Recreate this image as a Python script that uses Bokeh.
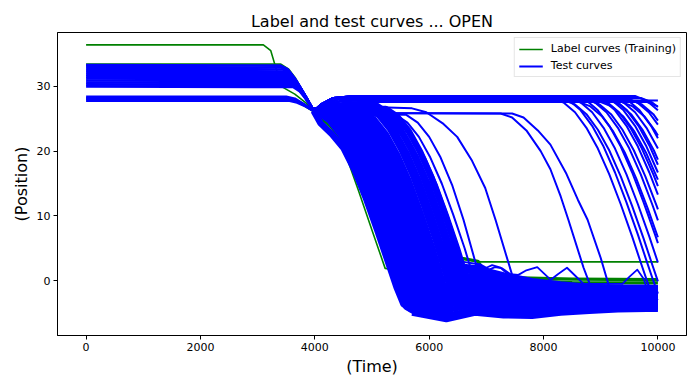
from bokeh.plotting import figure
from bokeh.models import Range1d, FixedTicker, Legend, LegendItem
from bokeh.embed import file_html
from bokeh.resources import INLINE

title_text = "Label and test curves ... OPEN"
x_label = "(Time)"
y_label = "(Position)"
x_ticks = [0, 2000, 4000, 6000, 8000, 10000]
y_ticks = [0, 10, 20, 30]
legend_labels = ["Label curves (Training)", "Test curves"]

# ---- Label curves (Training), green ----
green_t = [
    [0, 3100, 3230, 3330, 3450, 3650, 3850, 3980, 4100, 4300, 4500, 4760, 5000, 5230, 5300, 5400, 5600, 6000, 6300, 6600, 6900, 10000],
]
green_y = [
    [36.4, 36.4, 35.5, 32.5, 29.8, 28.8, 27.4, 26.2, 24.0, 22.4, 20.5, 14.0, 7.8, 1.9, 1.8, 2.8, 3.4, 3.5, 3.6, 3.3, 2.9, 2.9],
]
green_low_t = [
    [0, 3400, 3530, 3650, 3800, 3980, 4300, 4600, 4900, 5200, 5500, 5650, 5800, 6000, 6300, 6600, 6850, 7000, 7300, 7600, 8500, 10000],
    [0, 3520, 3670, 3820, 3980, 4400, 4800, 5200, 5600, 5800, 6100, 6500, 7000, 7600, 8500, 10000],
]
green_low_y = [
    [33.3, 33.3, 32.6, 31.2, 28.9, 26.2, 23.6, 20.0, 14.0, 7.0, 0.5, -2.5, -2.0, 0.5, 3.2, 3.4, 3.0, 1.0, 0.5, 0.45, 0.25, 0.15],
    [28.1, 28.1, 27.8, 27.1, 26.2, 24.5, 19.5, 10.5, 0.5, -2.0, -1.0, 1.5, 1.2, 0.0, -0.3, -0.35],
]

# ---- Test curves, blue: starting levels until the pinch ----
start_t = [
    [0, 3400, 3530, 3650, 3800, 3980],
    [0, 3420, 3560, 3680, 3820, 3980],
    [0, 3440, 3580, 3700, 3830, 3980],
    [0, 3460, 3600, 3720, 3840, 3980],
    [0, 3480, 3620, 3740, 3850, 3980],
    [0, 3500, 3640, 3750, 3860, 3980],
    [0, 3520, 3660, 3760, 3870, 3980],
    [0, 3540, 3670, 3770, 3880, 3980],
    [0, 3560, 3680, 3780, 3890, 3980],
    [0, 3580, 3700, 3800, 3900, 3980],
    [0, 3600, 3720, 3820, 3910, 3980],
    [0, 3620, 3740, 3840, 3920, 3980],
    [0, 3500, 3650, 3800, 3980],
    [0, 3520, 3670, 3820, 3980],
    [0, 3540, 3690, 3840, 3980],
]
start_y = [
    [33.3, 33.2, 32.6, 31.2, 28.9, 26.2],
    [33.0, 32.9, 32.2, 30.8, 28.7, 26.2],
    [32.7, 32.6, 31.9, 30.5, 28.6, 26.2],
    [32.4, 32.3, 31.6, 30.2, 28.4, 26.2],
    [32.1, 32.0, 31.3, 29.9, 28.3, 26.2],
    [31.8, 31.7, 31.0, 29.7, 28.1, 26.2],
    [31.5, 31.4, 30.7, 29.5, 28.0, 26.2],
    [31.2, 31.1, 30.4, 29.3, 27.8, 26.2],
    [30.9, 30.8, 30.1, 29.0, 27.6, 26.2],
    [30.6, 30.5, 29.8, 28.7, 27.4, 26.2],
    [30.3, 30.2, 29.5, 28.4, 27.2, 26.2],
    [30.0, 29.9, 29.2, 28.1, 27.0, 26.2],
    [28.4, 28.4, 28.1, 27.3, 26.2],
    [28.1, 28.1, 27.8, 27.1, 26.2],
    [27.8, 27.8, 27.5, 26.9, 26.2],
]

# ---- Test curves on the upper plateau, late drops ----
plateau_t = [
    [3980, 4150, 4400, 4750, 8150, 8350, 8550, 8750, 8950, 9150, 9350, 9550, 9700, 9800, 9900, 10000],
    [3980, 4120, 4320, 4700, 8250, 8450, 8650, 8850, 9050, 9250, 9450, 9650, 9800, 9900, 10000],
    [3980, 4180, 4450, 4800, 8350, 8550, 8750, 8950, 9150, 9350, 9550, 9750, 9900, 10000],
    [3980, 4150, 4400, 4750, 8450, 8650, 8850, 9050, 9250, 9450, 9650, 9850, 10000],
    [3980, 4120, 4320, 4700, 8550, 8750, 8950, 9150, 9350, 9550, 9750, 9950, 10000],
    [3980, 4200, 4500, 4850, 8620, 8820, 9020, 9220, 9420, 9620, 9820, 10000],
    [3980, 4150, 4400, 4750, 8700, 8900, 9100, 9300, 9500, 9700, 9900, 10000],
    [3980, 4180, 4450, 4800, 8780, 8980, 9180, 9380, 9580, 9780, 9980, 10000],
    [3980, 4120, 4320, 4700, 8850, 9050, 9250, 9450, 9650, 9850, 10000],
    [3980, 4150, 4400, 4750, 8920, 9120, 9320, 9520, 9720, 9920, 10000],
    [3980, 4200, 4500, 4850, 8990, 9190, 9390, 9590, 9790, 9990, 10000],
    [3980, 4120, 4320, 4700, 9000, 9200, 9400, 9600, 9800, 10000],
    [3980, 4120, 4320, 4700, 9060, 9260, 9460, 9660, 9860, 10000],
    [3980, 4180, 4450, 4800, 9130, 9330, 9530, 9730, 9930, 10000],
    [3980, 4150, 4400, 4750, 9200, 9400, 9600, 9800, 10000],
    [3980, 4120, 4320, 4700, 9280, 9480, 9680, 9880, 10000],
    [3980, 4200, 4500, 4850, 9360, 9560, 9760, 9960, 10000],
    [3980, 4150, 4400, 4750, 9440, 9640, 9840, 10000],
    [3980, 4180, 4450, 4800, 9520, 9720, 9920, 10000],
    [3980, 4120, 4320, 4700, 9600, 9800, 10000],
    [3980, 4150, 4400, 4750, 9700, 9900, 10000],
    [3980, 4200, 4500, 4850, 9800, 10000],
    [3980, 4180, 4450, 4800, 10000],
]
plateau_y = [
    [26.2, 27.2, 28.0, 28.2, 28.2, 27.5, 26.0, 23.6, 20.4, 16.4, 11.8, 6.8, 2.8, 0.2, -2.3, -3.0],
    [26.2, 27.3, 28.2, 28.5, 28.5, 27.8, 26.3, 23.9, 20.7, 16.7, 12.1, 7.1, 3.1, 0.5, -2.0],
    [26.2, 27.1, 27.7, 27.9, 27.9, 27.2, 25.7, 23.3, 20.1, 16.1, 11.5, 6.5, 2.5, -0.1],
    [26.2, 27.2, 28.0, 28.2, 28.2, 27.5, 26.0, 23.6, 20.4, 16.4, 11.8, 6.8, 2.8],
    [26.2, 27.3, 28.2, 28.5, 28.5, 27.8, 26.3, 23.9, 20.7, 16.7, 12.1, 7.1, 5.8],
    [26.2, 26.9, 27.4, 27.6, 27.6, 26.9, 25.4, 23.0, 19.8, 15.8, 11.2, 6.7],
    [26.2, 27.2, 28.0, 28.2, 28.2, 27.5, 26.0, 23.6, 20.4, 16.4, 11.8, 9.3],
    [26.2, 27.1, 27.7, 27.9, 27.9, 27.2, 25.7, 23.3, 20.1, 16.1, 11.5, 11.0],
    [26.2, 27.3, 28.2, 28.5, 28.5, 27.8, 26.3, 23.9, 20.7, 16.7, 13.3],
    [26.2, 27.2, 28.0, 28.2, 28.2, 27.5, 26.0, 23.6, 20.4, 16.4, 14.6],
    [26.2, 26.9, 27.4, 27.6, 27.6, 26.9, 25.4, 23.0, 19.8, 15.8, 15.6],
    [26.2, 27.3, 28.2, 28.5, 28.5, 27.8, 26.3, 23.9, 20.7, 16.7],
    [26.2, 27.3, 28.2, 28.5, 28.5, 27.8, 26.3, 23.9, 20.7, 17.9],
    [26.2, 27.1, 27.7, 27.9, 27.9, 27.2, 25.7, 23.3, 20.1, 18.7],
    [26.2, 27.2, 28.0, 28.2, 28.2, 27.5, 26.0, 23.6, 20.4],
    [26.2, 27.3, 28.2, 28.5, 28.5, 27.8, 26.3, 23.9, 22.0],
    [26.2, 26.9, 27.4, 27.6, 27.6, 26.9, 25.4, 23.0, 22.4],
    [26.2, 27.2, 28.0, 28.2, 28.2, 27.5, 26.0, 24.1],
    [26.2, 27.1, 27.7, 27.9, 27.9, 27.2, 25.7, 24.7],
    [26.2, 27.3, 28.2, 28.5, 28.5, 27.8, 26.3],
    [26.2, 27.2, 28.0, 28.2, 28.2, 27.5, 26.8],
    [26.2, 26.9, 27.4, 27.6, 27.6, 26.9],
    [26.2, 27.1, 27.7, 27.9, 27.8],
]

# ---- Test curves, main early-drop bundle ----
bundle_t = [
    [3980, 4100, 4300, 4500, 4700, 4900, 5100, 5300, 5430, 5550, 5700],
    [3980, 4050, 4250, 4450, 4650, 4850, 5050, 5250, 5400, 5500, 5600, 5750],
    [3980, 4120, 4320, 4520, 4720, 4920, 5120, 5320, 5470, 5570, 5670, 5800],
    [3980, 4200, 4400, 4600, 4800, 5000, 5200, 5400, 5550, 5650, 5750, 5900],
    [3980, 4280, 4480, 4680, 4880, 5080, 5280, 5480, 5630, 5730, 5830, 5950],
    [3980, 4360, 4560, 4760, 4960, 5160, 5360, 5560, 5710, 5810, 5910, 6050],
    [3980, 4440, 4640, 4840, 5040, 5240, 5440, 5640, 5790, 5890, 5990, 6100],
    [3980, 4520, 4720, 4920, 5120, 5320, 5520, 5720, 5870, 5970, 6070, 6200],
    [3980, 4600, 4800, 5000, 5200, 5400, 5600, 5800, 5950, 6050, 6150, 6280],
    [3980, 4680, 4880, 5080, 5280, 5480, 5680, 5880, 6030, 6130, 6230, 6350],
    [3980, 4300, 4760, 4960, 5160, 5360, 5560, 5760, 5960, 6110, 6210, 6310, 6400],
    [3980, 4840, 5040, 5240, 5440, 5640, 5840, 6040, 6190, 6290, 6390],
    [3980, 4350, 4920, 5120, 5320, 5520, 5720, 5920, 6120, 6270, 6370, 6470],
    [3980, 5000, 5200, 5400, 5600, 5800, 6000, 6200, 6350, 6450, 6550],
    [3980, 4400, 5080, 5280, 5480, 5680, 5880, 6080, 6280, 6430, 6530],
    [3980, 5160, 5360, 5560, 5760, 5960, 6160, 6360, 6510, 6610],
    [3980, 4400, 5240, 5440, 5640, 5840, 6040, 6240, 6440, 6590, 6690],
]
bundle_y = [
    [26.2, 24.3, 22.6, 20.5, 17.0, 12.6, 7.6, 2.4, -1.0, -3.6, -4.5],
    [26.2, 26.0, 24.8, 22.6, 19.4, 15.4, 10.6, 5.4, 1.0, -2.0, -4.0, -4.8],
    [26.2, 26.1, 24.9, 22.7, 19.5, 15.5, 10.7, 5.5, 1.1, -1.9, -3.9, -5.0],
    [26.2, 26.0, 24.8, 22.6, 19.4, 15.4, 10.6, 5.4, 1.0, -2.0, -4.0, -5.3],
    [26.2, 26.2, 25.0, 22.8, 19.6, 15.6, 10.8, 5.6, 1.2, -1.8, -3.8, -5.0],
    [26.2, 26.0, 24.8, 22.6, 19.4, 15.4, 10.6, 5.4, 1.0, -2.0, -4.0, -5.5],
    [26.2, 26.3, 25.1, 22.9, 19.7, 15.7, 10.9, 5.7, 1.3, -1.7, -3.7, -5.0],
    [26.2, 26.0, 24.8, 22.6, 19.4, 15.4, 10.6, 5.4, 1.0, -2.0, -4.0, -5.8],
    [26.2, 26.4, 25.2, 23.0, 19.8, 15.8, 11.0, 5.8, 1.4, -1.6, -3.6, -6.0],
    [26.2, 26.1, 24.9, 22.7, 19.5, 15.5, 10.7, 5.5, 1.1, -1.9, -3.9, -5.5],
    [26.2, 26.5, 26.6, 25.4, 23.2, 20.0, 16.0, 11.2, 6.0, 1.6, -1.4, -3.4, -4.5],
    [26.2, 26.0, 24.8, 22.6, 19.4, 15.4, 10.6, 5.4, 1.0, -2.0, -4.0],
    [26.2, 26.7, 26.8, 25.6, 23.4, 20.2, 16.2, 11.4, 6.2, 1.8, -1.2, -3.2],
    [26.2, 26.3, 25.1, 22.9, 19.7, 15.7, 10.9, 5.7, 1.3, -1.7, -3.7],
    [26.2, 26.9, 27.0, 25.8, 23.6, 20.4, 16.4, 11.6, 6.4, 2.0, -1.0],
    [26.2, 25.8, 24.6, 22.4, 19.2, 15.2, 10.4, 5.2, 0.8, -2.2],
    [26.2, 26.4, 26.5, 25.3, 23.1, 19.9, 15.9, 11.1, 5.9, 1.5, -1.5],
]

# ---- Test curves dropping in the middle ----
middle_t = [
    [3980, 4600, 5330, 5530, 5730, 5930, 6130, 6330, 6530, 6680, 6780],
    [3980, 4600, 5420, 5620, 5820, 6020, 6220, 6420, 6620, 6770, 6870],
    [3980, 4600, 5600, 5800, 6000, 6200, 6400, 6600, 6807, 6950],
    [3980, 4400, 5000, 5700, 5950, 6250, 6490, 6750, 6980, 7160, 7450, 7560, 7700],
    [3980, 4500, 7250, 7450, 7700, 7950, 8120, 8300, 8434, 8700, 8850, 8940, 9000, 9080, 9180],
    [3980, 4500, 7450, 7650, 7900, 8120, 8400, 8600, 8770, 9000, 9150, 9250, 9300, 9380, 9480],
]
middle_y = [
    [26.2, 25.6, 25.5, 24.3, 22.1, 18.9, 14.9, 10.1, 4.9, 0.5, -1.5],
    [26.2, 25.7, 25.6, 24.4, 22.2, 19.0, 15.0, 10.2, 5.0, 0.6, -1.5],
    [26.2, 25.7, 25.6, 24.4, 22.2, 19.0, 14.8, 9.4, 2.9, 0.5],
    [26.2, 26.6, 26.8, 26.6, 26.0, 24.2, 22.2, 18.5, 14.3, 9.4, 0.9, -0.8, -1.8],
    [26.2, 25.9, 25.8, 25.2, 23.2, 20.0, 17.2, 13.0, 9.4, 2.0, -1.5, -3.6, -4.2, -3.6, -2.2],
    [26.2, 25.9, 25.8, 25.2, 23.2, 21.0, 16.5, 12.5, 9.4, 3.5, -1.0, -3.8, -4.4, -3.8, -2.4],
]

# ---- Test curves settled at the bottom ----
band_t = [
    [6300, 6800, 7300, 7800, 8300, 8800, 9300, 9800, 10000],
    [6300, 6800, 7300, 7800, 8300, 8800, 9300, 9800, 10000],
    [6300, 6800, 7300, 7800, 8300, 8800, 9300, 9800, 10000],
    [6300, 6800, 7300, 7800, 8300, 8800, 9300, 9800, 10000],
    [6300, 6800, 7300, 7800, 8300, 8800, 9300, 9800, 10000],
    [6300, 6800, 7300, 7800, 8300, 8800, 9300, 9800, 10000],
    [5700, 6300, 6800, 7300, 7800, 8300, 8800, 9300, 9800, 10000],
    [5700, 6300, 6800, 7300, 7800, 8300, 8800, 9300, 9800, 10000],
    [5700, 6300, 6800, 7300, 7800, 8300, 8800, 9300, 9800, 10000],
    [5700, 6300, 6800, 7300, 7800, 8300, 8800, 9300, 9800, 10000],
    [5700, 6300, 6800, 7300, 7800, 8300, 8800, 9300, 9800, 10000],
    [5700, 6300, 6800, 7300, 7800, 8300, 8800, 9300, 9800, 10000],
]
band_y = [
    [2.5, 2.0, 0.9, 0.0, -0.5, -0.9, -1.0, -1.0, -1.1],
    [1.7, 1.4, 0.3, -0.5, -0.9, -1.2, -1.3, -1.3, -1.4],
    [0.9, 0.7, -0.3, -1.0, -1.2, -1.5, -1.6, -1.6, -1.7],
    [0.1, 0.1, -0.8, -1.5, -1.7, -1.9, -1.9, -2.0, -2.0],
    [-0.7, -0.6, -1.4, -2.0, -2.1, -2.3, -2.3, -2.3, -2.3],
    [-1.5, -1.2, -2.0, -2.6, -2.5, -2.6, -2.6, -2.6, -2.7],
    [-1.0, -2.3, -1.8, -2.6, -3.1, -2.9, -3.0, -2.9, -2.9, -3.0],
    [-2.0, -3.0, -2.5, -3.2, -3.6, -3.3, -3.4, -3.3, -3.2, -3.3],
    [-2.9, -3.8, -3.1, -3.8, -4.1, -3.8, -3.7, -3.6, -3.6, -3.6],
    [-3.7, -4.6, -3.7, -4.3, -4.6, -4.2, -4.1, -3.9, -3.9, -3.9],
    [-4.4, -5.4, -4.4, -4.9, -5.1, -4.6, -4.4, -4.3, -4.2, -4.2],
    [-5.0, -6.0, -5.0, -5.4, -5.5, -5.0, -4.7, -4.5, -4.4, -4.4],
]

# ---- Test curves oscillating above the bottom ----
bump_t = [
    [6800, 6900, 7050, 7150, 7280, 7420, 7560, 7700, 7890, 8080, 8120, 8250, 8410, 8550, 8700, 9000, 9380, 9500, 9640, 9750, 9800, 10000],
    [6600, 6900, 7000, 7100, 7250, 7400, 7500, 7650],
]
bump_y = [
    [2.6, 2.3, 1.7, 2.1, 1.9, 1.0, 0.9, 1.6, 2.1, 0.5, 0.1, 1.0, 2.0, 0.8, -0.5, -0.5, -0.5, 0.6, 1.7, 0.3, -1.0, -1.0],
    [2.9, 2.5, 2.0, 2.4, 2.0, 0.8, 0.3, -0.5],
]

FONT = "DejaVu Sans"

p = figure(width=698, height=378, output_backend="svg", toolbar_location=None,
           x_range=Range1d(-500, 10500), y_range=Range1d(-8.46, 38.31),
           min_border_left=57, min_border_right=12, min_border_top=32, min_border_bottom=42)

p.title.text = title_text
p.title.align = "center"
p.title.text_font = FONT
p.title.text_font_size = "16px"
p.title.text_font_style = "normal"
p.title.text_color = "black"
p.title.standoff = 3

p.background_fill_color = "white"
p.border_fill_color = "white"
p.outline_line_color = "black"
p.outline_line_width = 1
p.grid.visible = False

p.xaxis.ticker = FixedTicker(ticks=x_ticks)
p.yaxis.ticker = FixedTicker(ticks=y_ticks)
p.xaxis.axis_label = x_label
p.yaxis.axis_label = y_label
for ax in (p.xaxis, p.yaxis):
    ax.axis_line_color = "black"
    ax.major_tick_line_color = "black"
    ax.major_tick_in = 0
    ax.major_tick_out = 4
    ax.minor_tick_line_color = None
    ax.major_label_text_font = FONT
    ax.major_label_text_font_size = "11px"
    ax.major_label_text_color = "black"
    ax.major_label_standoff = 3
    ax.axis_label_text_font = FONT
    ax.axis_label_text_font_size = "16px"
    ax.axis_label_text_font_style = "normal"
    ax.axis_label_text_color = "black"
    ax.axis_label_standoff = 3

r_green = p.multi_line(xs=green_t, ys=green_y, line_color="green", line_width=1.6, line_join="round")
p.multi_line(xs=green_low_t, ys=green_low_y, line_color="green", line_width=3.2, line_join="round")

p.multi_line(xs=start_t, ys=start_y, line_color="blue", line_width=2.6, line_join="round")
p.multi_line(xs=plateau_t, ys=plateau_y, line_color="blue", line_width=2.0, line_join="round")
p.multi_line(xs=bundle_t, ys=bundle_y, line_color="blue", line_width=6.5, line_join="round")
p.multi_line(xs=middle_t, ys=middle_y, line_color="blue", line_width=2.0, line_join="round")
p.multi_line(xs=band_t, ys=band_y, line_color="blue", line_width=5.5, line_join="round")
r_blue = p.multi_line(xs=bump_t, ys=bump_y, line_color="blue", line_width=1.8, line_join="round")

legend = Legend(items=[LegendItem(label=legend_labels[0], renderers=[r_green]),
                       LegendItem(label=legend_labels[1], renderers=[r_blue])],
                location="top_right")
legend.margin = 5
legend.padding = 4
legend.spacing = 4
legend.glyph_width = 24
legend.glyph_height = 12
legend.label_height = 12
legend.label_standoff = 8
legend.label_text_font = FONT
legend.label_text_font_size = "11px"
legend.label_text_color = "black"
legend.border_line_color = "#cccccc"
legend.border_line_width = 1
legend.background_fill_color = "white"
legend.background_fill_alpha = 0.8
p.add_layout(legend)

open("out.html", "w").write(file_html(p, INLINE))
